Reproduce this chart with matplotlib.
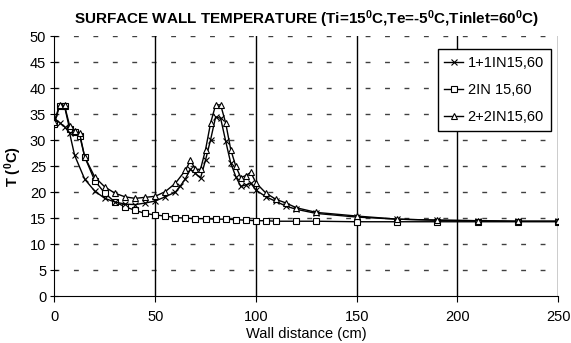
import matplotlib
matplotlib.use("Agg")
import matplotlib.pyplot as plt

plt.rcParams['font.family'] = ['Liberation Sans', 'DejaVu Sans']
plt.rcParams['mathtext.default'] = 'regular'

# --- data ---
x_cross = [0, 2.5, 5, 7.5, 10, 15, 20, 25, 30, 35, 40, 45, 50, 55, 60, 62.5, 65, 67.5,
           70, 72.5, 75, 77.5, 80, 82.5, 85, 87.5, 90, 92.5, 95, 97.5, 100, 105, 110,
           115, 120, 130, 150, 170, 190, 210, 230, 250]
t_cross = [34.2, 33.4, 32.6, 31.4, 27.1, 22.5, 20.2, 18.8, 18.1, 17.7, 17.6, 17.9, 18.3,
           19.1, 20.0, 21.2, 22.6, 24.4, 23.6, 22.7, 26.2, 30.1, 34.5, 34.2, 29.8, 25.6,
           23.0, 21.1, 21.4, 21.7, 20.4, 19.1, 18.2, 17.3, 16.7, 15.9, 15.2, 14.8, 14.6,
           14.5, 14.4, 14.4]

x_sq = [0, 2.5, 5, 7.5, 10, 12.5, 15, 20, 25, 30, 35, 40, 45, 50, 55, 60, 65, 70, 75,
        80, 85, 90, 95, 100, 105, 110, 120, 130, 150, 170, 190, 210, 230, 250]
t_sq = [33.2, 36.6, 36.5, 32.2, 31.5, 30.9, 26.8, 22.2, 19.8, 18.1, 17.2, 16.5, 15.9,
        15.6, 15.4, 15.1, 15.0, 14.9, 14.9, 14.8, 14.8, 14.7, 14.6, 14.5, 14.5, 14.4,
        14.4, 14.4, 14.3, 14.3, 14.3, 14.3, 14.3, 14.3]

x_tri = [0, 2.5, 5, 7.5, 10, 12.5, 15, 20, 25, 30, 35, 40, 45, 50, 55, 60, 65, 67.5,
         70, 72.5, 75, 77.5, 80, 82.5, 85, 87.5, 90, 92.5, 95, 97.5, 100, 105, 110, 115,
         120, 130, 150, 170, 190, 210, 230, 250]
t_tri = [33.6, 36.8, 36.7, 32.8, 31.7, 31.3, 26.8, 22.9, 21.0, 19.8, 19.1, 18.8, 19.0,
         19.2, 20.1, 21.7, 24.2, 26.1, 24.4, 24.4, 28.2, 33.3, 36.8, 36.8, 33.3, 28.2,
         25.0, 22.8, 23.2, 23.8, 21.8, 19.8, 18.6, 17.9, 17.0, 16.1, 15.4, 14.8, 14.6,
         14.5, 14.4, 14.4]

labels = ['1+1IN15,60', '2IN 15,60', '2+2IN15,60']
title = r'SURFACE WALL TEMPERATURE (Ti=15$^0$C,Te=-5$^0$C,Tinlet=60$^0$C)'
xlabel = 'Wall distance (cm)'
ylabel = r'T ($^0$C)'
xticks = [0, 50, 100, 150, 200, 250]
yticks = [0, 5, 10, 15, 20, 25, 30, 35, 40, 45, 50]

fig = plt.figure(figsize=(5.71, 3.43), dpi=100)
ax = fig.add_axes([0.0954, 0.137, 0.882, 0.757])

# grid
for v in yticks[1:]:
    ax.axhline(v, color='#404040', lw=1.0, ls=(0, (3.5, 10.5)), zorder=1)
for v in xticks[1:]:
    ax.axvline(v, color='black', lw=1.0, zorder=1)

ax.plot(x_cross, t_cross, color='black', lw=1.0, marker='x', ms=4.5, mew=0.8,
        label=labels[0], zorder=3)
ax.plot(x_sq, t_sq, color='black', lw=1.0, marker='s', ms=4.5, mew=0.8,
        mfc='white', label=labels[1], zorder=2)
ax.plot(x_tri, t_tri, color='black', lw=1.0, marker='^', ms=5, mew=0.8,
        mfc='white', label=labels[2], zorder=4)

ax.set_xlim(0, 250)
ax.set_ylim(0, 50)
ax.set_xticks(xticks)
ax.set_yticks(yticks)
ax.spines['top'].set_visible(False)
ax.spines['right'].set_visible(False)
ax.tick_params(axis='x', direction='out', length=4, labelsize=10.5, pad=6)
ax.tick_params(axis='y', direction='inout', length=6, labelsize=10.5, pad=3)

ax.set_title(title, fontsize=11, fontweight='bold', pad=9)
ax.set_xlabel(xlabel, fontsize=10.5, labelpad=2)
ax.set_ylabel(ylabel, fontsize=10.5, fontweight='bold', labelpad=4)

leg = ax.legend(loc='upper right', bbox_to_anchor=(0.985, 0.95), fontsize=10.5,
                frameon=True, fancybox=False, framealpha=1, edgecolor='black',
                handlelength=1.3, handletextpad=0.3, borderpad=0.45, labelspacing=0.9,
                borderaxespad=0)
leg.get_frame().set_linewidth(1.0)

fig.savefig('out.png', dpi=100)
